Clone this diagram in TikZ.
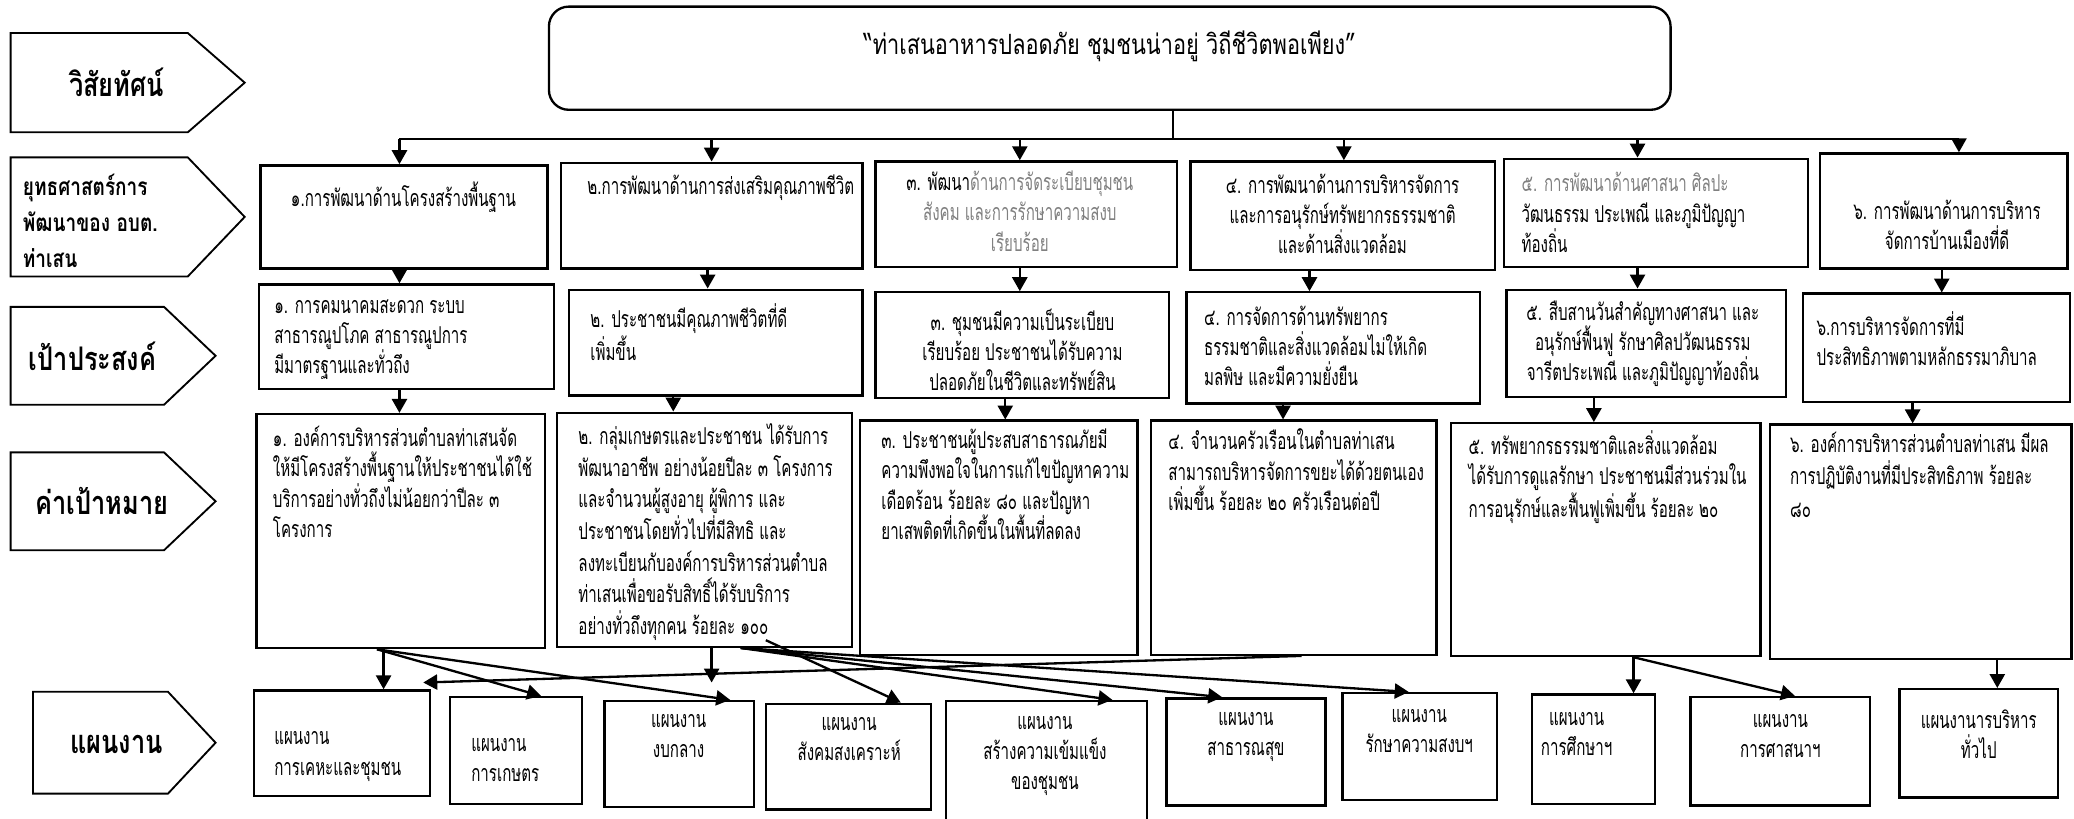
\documentclass[tikz,border=0pt]{standalone}
\usepackage{fontspec}
\newfontfamily\thaifont[Script=Thai,FakeStretch=0.65]{Loma}
\newfontfamily\thaihead[Script=Thai,FakeStretch=0.78]{Loma}
\usetikzlibrary{arrows.meta,fit,positioning}

\tikzset{
  box/.style={draw,line width=1pt,inner sep=0pt},
  txt/.style={font=\thaifont\fontsize{10}{13}\selectfont,inner sep=0pt,align=left,anchor=north west},
  ctxt/.style={txt,align=center,anchor=north},
  head/.style={font=\thaihead\bfseries\fontsize{14}{16}\selectfont,inner sep=0pt},
  arr/.style={line width=1pt,-{Triangle[length=6pt,width=6.5pt]}},
}

\begin{document}
\begin{tikzpicture}[x=0.02cm,y=-0.02cm]
\useasboundingbox (0,0) rectangle (1568,619);

\foreach \xa/\xn/\xt/\ya/\yb in {8/142/185/25/100,8/142/185/119/209,8/124/163/232/306,8/124/163/342/416,25/127/163/523/600}
  \draw[line width=0.8pt] (\xa,\ya) -- (\xn,\ya) -- (\xt,{(\ya+\yb)/2}) -- (\xn,\yb) -- (\xa,\yb) -- cycle;

\node[head] (hvis) at (88,62) {วิสัยทัศน์};
\node[head,font=\thaihead\bfseries\fontsize{10.5}{15.5}\selectfont,align=left,anchor=west] (hstr) at (17,167) {ยุทธศาสตร์การ\\พัฒนาของ อบต.\\ท่าเสน};
\node[head] (hgoal) at (70,269) {เป้าประสงค์};
\node[head] (hval) at (77,379) {ค่าเป้าหมาย};
\node[head] (hplan) at (88,563) {แผนงาน};

\node[box,rounded corners=0.3cm,fit={(415,5) (1263,83)},font=\thaihead\fontsize{12}{13}\selectfont] (vis) {“ท่าเสนอาหารปลอดภัย ชุมชนน่าอยู่ วิถีชีวิตพอเพียง”};

\foreach \n/\xa/\ya/\xb/\yb in {s1/197/125/414/203,s2/424/123/652/203,s3/662/122/890/202,s4/900/122/1130/204,s5/1137/120/1367/202,s6/1376/116/1563/203,
  g1/196/215/419/294,g2/430/219/652/299,g3/662/221/884/301,g4/897/221/1119/305,g5/1139/219/1350/300,g6/1363/222/1565/304,
  t1/194/313/412/490,t2/421/312/644/489,t3/650/318/860/495,t4/870/318/1086/495,t5/1097/320/1331/496,t6/1338/321/1566/498,
  p1/192/522/325/602,p2/340/527/440/608,p3/457/530/570/610,p4/579/532/704/612,p5/715/530/867/625,
  p6/882/528/1002/609,p7/1015/524/1132/605,p8/1158/525/1251/608,p9/1278/527/1414/609,p10/1436/521/1556/603}
  \node[box,fit={(\xa,\ya) (\xb,\yb)}] (\n) {};

\node[ctxt] (s1t) at (305,137) {๑.การพัฒนาด้านโครงสร้างพื้นฐาน};
\node[ctxt] (s2t) at (545,132) {๒.การพัฒนาด้านการส่งเสริมคุณภาพชีวิต};
\node[ctxt,text=gray] (s3t) at (771,129) {\textcolor{black}{๓. พัฒนา}ด้านการจัดระเบียบชุมชน\\สังคม และการรักษาความสงบ\\เรียบร้อย};
\node[ctxt] (s4t) at (1015,131) {๔. การพัฒนาด้านการบริหารจัดการ\\และการอนุรักษ์ทรัพยากรธรรมชาติ\\และด้านสิ่งแวดล้อม};
\node[txt] (s5t) at (1150,130) {\textcolor{gray}{๕. การพัฒนาด้านศาสนา ศิลปะ}\\วัฒนธรรม ประเพณี และภูมิปัญญา\\ท้องถิ่น};
\node[ctxt] (s6t) at (1472,151) {๖. การพัฒนาด้านการบริหาร\\จัดการบ้านเมืองที่ดี};

\node[txt] (g1t) at (207,226) {๑. การคมนาคมสะดวก ระบบ\\สาธารณูปโภค สาธารณูปการ\\มีมาตรฐานและทั่วถึง};
\node[txt] (g2t) at (446,229) {๒. ประชาชนมีคุณภาพชีวิตที่ดี\\เพิ่มขึ้น};
\node[ctxt] (g3t) at (773,233) {๓. ชุมชนมีความเป็นระเบียบ\\เรียบร้อย ประชาชนได้รับความ\\ปลอดภัยในชีวิตและทรัพย์สิน};
\node[txt] (g4t) at (910,231) {๔. การจัดการด้านทรัพยากร\\ธรรมชาติและสิ่งแวดล้อมไม่ให้เกิด\\มลพิษ และมีความยั่งยืน};
\node[ctxt] (g5t) at (1242,227) {๕. สืบสานวันสำคัญทางศาสนา และ\\อนุรักษ์ฟื้นฟู รักษาศิลปวัฒนธรรม\\จารีตประเพณี และภูมิปัญญาท้องถิ่น};
\node[txt] (g6t) at (1373,235) {๖.การบริหารจัดการที่มี\\ประสิทธิภาพตามหลักธรรมาภิบาล};

\node[txt] (t1t) at (206,322) {๑. องค์การบริหารส่วนตำบลท่าเสนจัด\\ให้มีโครงสร้างพื้นฐานให้ประชาชนได้ใช้\\บริการอย่างทั่วถึงไม่น้อยกว่าปีละ ๓\\โครงการ};
\node[txt,font=\thaifont\fontsize{10}{13.6}\selectfont] (t2t) at (437,320) {๒. กลุ่มเกษตรและประชาชน ได้รับการ\\พัฒนาอาชีพ อย่างน้อยปีละ ๓ โครงการ\\และจำนวนผู้สูงอายุ ผู้พิการ และ\\ประชาชนโดยทั่วไปที่มีสิทธิ และ\\ลงทะเบียนกับองค์การบริหารส่วนตำบล\\ท่าเสนเพื่อขอรับสิทธิ์ได้รับบริการ\\อย่างทั่วถึงทุกคน ร้อยละ ๑๐๐};
\node[txt] (t3t) at (666,324) {๓. ประชาชนผู้ประสบสาธารณภัยมี\\ความพึงพอใจในการแก้ไขปัญหาความ\\เดือดร้อน ร้อยละ ๘๐ และปัญหา\\ยาเสพติดที่เกิดขึ้นในพื้นที่ลดลง};
\node[txt] (t4t) at (883,324) {๔. จำนวนครัวเรือนในตำบลท่าเสน\\สามารถบริหารจัดการขยะได้ด้วยตนเอง\\เพิ่มขึ้น ร้อยละ ๒๐ ครัวเรือนต่อปี};
\node[txt] (t5t) at (1110,325) {๕. ทรัพยากรธรรมชาติและสิ่งแวดล้อม\\ได้รับการดูแลรักษา ประชาชนมีส่วนร่วมใน\\การอนุรักษ์และฟื้นฟูเพิ่มขึ้น ร้อยละ ๒๐};
\node[txt,font=\thaifont\fontsize{10}{14}\selectfont] (t6t) at (1353,326) {๖. องค์การบริหารส่วนตำบลท่าเสน มีผล\\การปฏิบัติงานที่มีประสิทธิภาพ ร้อยละ\\๘๐};

\node[txt] (p1t) at (207,553) {แผนงาน\\การเคหะและชุมชน};
\node[txt] (p2t) at (356,558) {แผนงาน\\การเกษตร};
\node[ctxt] (p3t) at (513,540) {แผนงาน\\งบกลาง};
\node[ctxt] (p4t) at (642,542) {แผนงาน\\สังคมสงเคราะห์};
\node[ctxt] (p5t) at (790,541) {แผนงาน\\สร้างความเข้มแข็ง\\ของชุมชน};
\node[ctxt] (p6t) at (942,538) {แผนงาน\\สาธารณสุข};
\node[ctxt] (p7t) at (1073,536) {แผนงาน\\รักษาความสงบฯ};
\node[ctxt] (p8t) at (1192,538) {แผนงาน\\การศึกษาฯ};
\node[ctxt] (p9t) at (1346,540) {แผนงาน\\การศาสนาฯ};
\node[ctxt] (p10t) at (1496,536) {แผนงานารบริหาร\\ทั่วไป};

\coordinate (bus) at (887,105);
\foreach \x [count=\i] in {302,538,771,1016,1238,1481}
  \coordinate (b\i) at (\x,105);
\draw[line width=1pt] (vis.south -| bus) -- (bus);
\draw[line width=1pt] (b1) -- (b6);
\foreach \i in {1,...,6}
  \draw[arr] (b\i) -- (b\i |- s\i.north);
\foreach \i/\x in {1/302,2/535,3/771,4/990,5/1238,6/1468}
  \draw[arr] (s\i.south -| \x,0) -- (g\i.north -| \x,0);
\foreach \i/\x in {1/302,2/509,3/760,4/970,5/1205,6/1446}
  \draw[arr] (g\i.south -| \x,0) -- (t\i.north -| \x,0);

\coordinate (o3) at (579,484);
\coordinate (e1) at (320,516);
\coordinate (e2) at (538,516);
\draw[arr] (t1.south -| 290,0) -- (p1.north -| 290,0);
\draw[arr] (t1.south -| 285,0) -- (p2.north -| 409,0);
\draw[arr] (t1.south -| 285,0) -- (p3.north -| 552,0);
\draw[arr] (t4.south -| 984,0) -- (e1);
\draw[arr] (t2.south -| 538,0) -- (e2);
\draw[arr] (o3) -- (p4.north -| 681,0);
\foreach \x/\p in {841/p5,924/p6,1065/p7}
  \draw[arr] (t2.south -| 560,0) -- (\p.north -| \x,0);
\draw[arr] (t5.south -| 1235,0) -- (p8.north -| 1235,0);
\draw[arr] (t5.south -| 1235,0) -- (p9.north -| 1357,0);
\draw[arr] (t6.south -| 1510,0) -- (p10.north -| 1510,0);
\end{tikzpicture}
\end{document}
